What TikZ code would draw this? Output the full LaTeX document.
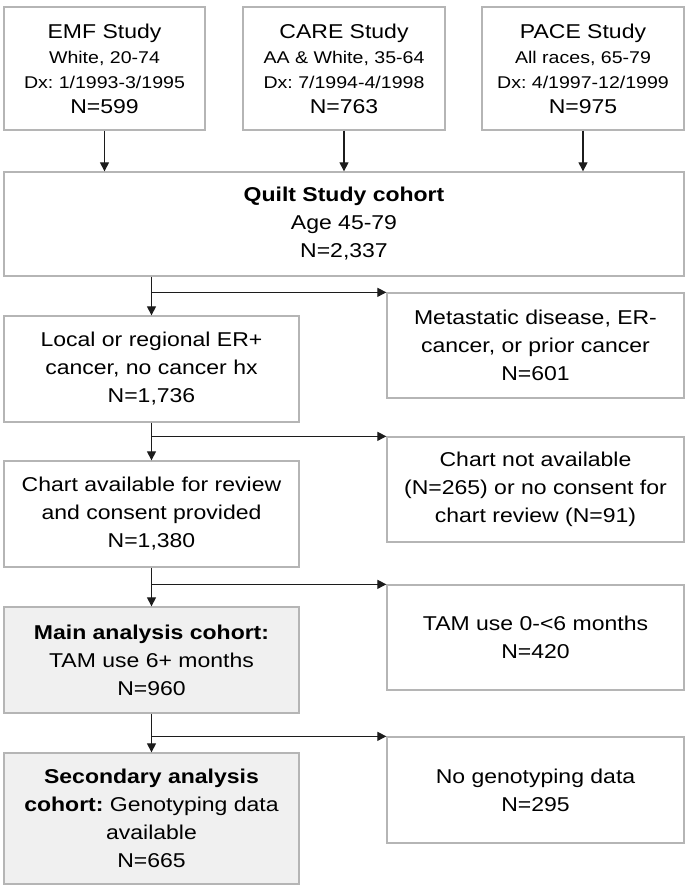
\documentclass[tikz,border=0pt]{standalone}
\usepackage{fontspec}
\setmainfont[FakeStretch=1.15]{Liberation Sans}
\usetikzlibrary{arrows.meta}
\definecolor{boxline}{HTML}{B5B5B5}
\definecolor{boxfill}{HTML}{F0F0F0}
\definecolor{arrline}{HTML}{1C1C1C}
\tikzset{
  box/.style={draw=boxline, line width=1.3pt, fill=white, align=center, inner sep=2pt,
    font=\fontsize{20}{28}\selectfont\frenchspacing},
  graybox/.style={box, fill=boxfill},
  topbox/.style={box, font=\fontsize{20}{25}\selectfont\frenchspacing},
  arr/.style={draw=arrline, line width=1.1pt, -{Triangle[length=9pt,width=9pt]}}
}
\newcommand{\subl}[1]{{\fontsize{17}{25}\selectfont #1}}
\begin{document}
\begin{tikzpicture}[x=1pt,y=1pt]
\useasboundingbox (0,0) rectangle (685,-886);
% top studies
\node[topbox, minimum width=201pt, minimum height=123pt] (emf) at (104.5,-68.5)
  {EMF Study\\ \subl{White, 20-74}\\ \subl{Dx: 1/1993-3/1995}\\ N=599};
\node[topbox, minimum width=202pt, minimum height=123pt] (care) at (344,-68.5)
  {CARE Study\\ \subl{AA \& White, 35-64}\\ \subl{Dx: 7/1994-4/1998}\\ N=763};
\node[topbox, minimum width=202pt, minimum height=123pt] (pace) at (583,-68.5)
  {PACE Study\\ \subl{All races, 65-79}\\ \subl{Dx: 4/1997-12/1999}\\ N=975};
% quilt
\node[box, minimum width=680pt, minimum height=104pt] (quilt) at (344,-224)
  {\textbf{Quilt Study cohort}\\ Age 45-79\\ N=2,337};
% left column
\node[box, minimum width=295pt, minimum height=106pt] (local) at (151.5,-369)
  {Local or regional ER+\\ cancer, no cancer hx\\ N=1,736};
\node[box, minimum width=295pt, minimum height=106pt] (chart) at (151.5,-514)
  {Chart available for review\\ and consent provided\\ N=1,380};
\node[graybox, minimum width=295pt, minimum height=106pt] (main) at (151.5,-660)
  {\textbf{Main analysis cohort:}\\ TAM use 6+ months\\ N=960};
\node[graybox, minimum width=295pt, minimum height=131pt] (second) at (151.5,-818.5)
  {\textbf{Secondary analysis}\\ \textbf{cohort:} Genotyping data\\ available\\ N=665};
% right column
\node[box, minimum width=297pt, minimum height=105pt] (meta) at (535.5,-345.5)
  {Metastatic disease, ER-\\ cancer, or prior cancer\\ N=601};
\node[box, minimum width=297pt, minimum height=105pt] (nochart) at (535.5,-489.5)
  {Chart not available\\ (N=265) or no consent for\\ chart review (N=91)};
\node[box, minimum width=297pt, minimum height=105pt] (tam) at (535.5,-637.5)
  {TAM use 0-{<}6 months\\ N=420};
\node[box, minimum width=297pt, minimum height=106pt] (nogeno) at (535.5,-790)
  {No genotyping data\\ N=295};
% arrows top
\draw[arr] (emf.south) -- (emf.south |- quilt.north);
\draw[arr] (care.south) -- (care.south |- quilt.north);
\draw[arr] (pace.south) -- (pace.south |- quilt.north);
% branches
\draw[arr] (local.north |- quilt.south) -- (local.north);
\draw[arr] (local.north |- meta.north west) -- (meta.north west);
\draw[arr] (local.south) -- (chart.north);
\draw[arr] (local.south |- nochart.north west) -- (nochart.north west);
\draw[arr] (chart.south) -- (main.north);
\draw[arr] (chart.south |- tam.north west) -- (tam.north west);
\draw[arr] (main.south) -- (second.north);
\draw[arr] (main.south |- nogeno.north west) -- (nogeno.north west);
\end{tikzpicture}
\end{document}
